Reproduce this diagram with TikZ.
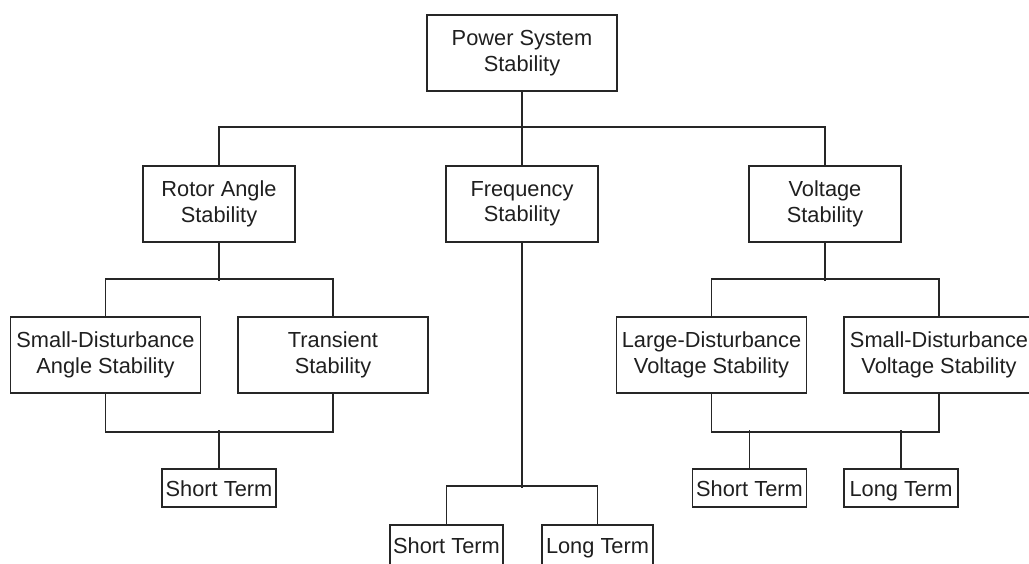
\documentclass[tikz,border=0pt]{standalone}
\usepackage{fontspec}
\setmainfont{Liberation Sans}
\begin{document}
\begin{tikzpicture}[x=1pt,y=-1pt,
  box/.style={draw=black!85,line width=1.6pt,text=black!88,align=center,inner sep=0pt,
    font=\fontsize{21.8}{25.5}\selectfont},
  bigbox/.style={box,minimum width=152pt,minimum height=76pt},
  widebox/.style={box,minimum width=190pt,minimum height=76pt},
  termbox/.style={box,minimum width=114pt,minimum height=38pt,text height=18pt,text depth=1.5pt},
  conn/.style={draw=black!85,line width=1.6pt}]
\useasboundingbox (0,0) rectangle (1029,563);
\clip (0,0) rectangle (1029,563);
% level 0
\node[widebox] (pss) at (522,53) {Power System\\Stability};
% level 1
\node[bigbox] (ras) at (219,204) {Rotor Angle\\Stability};
\node[bigbox] (fs) at (522,204) {Frequency\\Stability};
\node[bigbox] (vs) at (825,204) {Voltage\\Stability};
% level 2
\node[widebox] (sda) at (105.5,355) {Small-Disturbance\\Angle Stability};
\node[widebox] (tr) at (333,355) {Transient\\Stability};
\node[widebox] (ldv) at (711.5,355) {Large-Disturbance\\Voltage Stability};
\node[widebox] (sdv) at (939,355) {Small-Disturbance\\Voltage Stability};
% level 3
\node[termbox] (st1) at (219,488) {Short Term};
\node[termbox] (st3) at (749.5,488) {Short Term};
\node[termbox] (lt3) at (901,488) {Long Term};
\node[termbox,minimum width=113pt,minimum height=40pt] (st2) at (446.5,545) {Short Term};
\node[termbox,minimum width=111pt,minimum height=40pt] (lt2) at (597.5,545) {Long Term};
% connectors
\draw[conn] (ras.north) -- ++(0,-38) -| (vs.north);
\draw[conn] (pss.south) -- (fs.north);
\draw[conn] (ras.south) -- ++(0,38);
\draw[conn] (sda.north) -- ++(0,-37) -| (tr.north);
\draw[conn] (sda.south) -- ++(0,38) -| (tr.south);
\draw[conn] (st1.north) -- ++(0,-38);
\draw[conn] (fs.south) -- ++(0,245);
\draw[conn] (st2.north) -- ++(0,-38) -| (lt2.north);
\draw[conn] (vs.south) -- ++(0,38);
\draw[conn] (ldv.north) -- ++(0,-37) -| (sdv.north);
\draw[conn] (ldv.south) -- ++(0,38) -| (sdv.south);
\draw[conn] (st3.north) -- ++(0,-38);
\draw[conn] (lt3.north) -- ++(0,-38);
\end{tikzpicture}
\end{document}
